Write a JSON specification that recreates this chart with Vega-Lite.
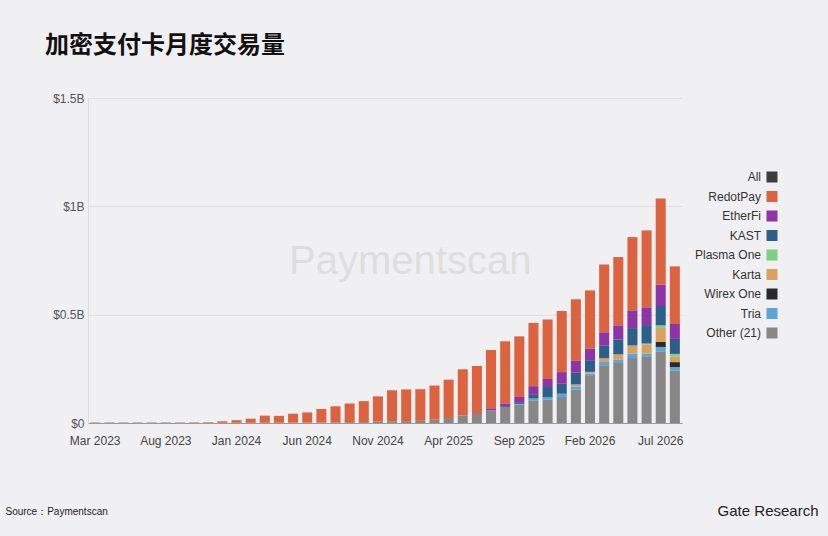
{
  "$schema": "https://vega.github.io/schema/vega-lite/v6.json",
  "width": 594,
  "height": 325,
  "autosize": {"type": "none"},
  "padding": {"left": 88, "top": 98, "right": 146, "bottom": 113},
  "background": "#f0f0f2",
  "title": {
    "text": "加密支付卡月度交易量",
    "anchor": "start",
    "frame": "group",
    "dx": -43,
    "offset": 34,
    "font": "Noto Sans CJK SC",
    "fontSize": 24,
    "fontWeight": "bold",
    "color": "#111111"
  },
  "config": {
    "view": {"stroke": null},
    "font": "Liberation Sans",
    "axis": {"labelFont": "Liberation Sans", "titleFont": "Liberation Sans"},
    "legend": {"labelFont": "Liberation Sans"}
  },
  "datasets": {
    "monthly": [
      {"m": "Mar 2023", "Other (21)": 0.002, "Tria": 0, "Wirex One": 0, "Karta": 0, "Plasma One": 0, "KAST": 0, "EtherFi": 0, "RedotPay": 0.0005},
      {"m": "Apr 2023", "Other (21)": 0.002, "Tria": 0, "Wirex One": 0, "Karta": 0, "Plasma One": 0, "KAST": 0, "EtherFi": 0, "RedotPay": 0.0005},
      {"m": "May 2023", "Other (21)": 0.002, "Tria": 0, "Wirex One": 0, "Karta": 0, "Plasma One": 0, "KAST": 0, "EtherFi": 0, "RedotPay": 0.0005},
      {"m": "Jun 2023", "Other (21)": 0.002, "Tria": 0, "Wirex One": 0, "Karta": 0, "Plasma One": 0, "KAST": 0, "EtherFi": 0, "RedotPay": 0.0005},
      {"m": "Jul 2023", "Other (21)": 0.002, "Tria": 0, "Wirex One": 0, "Karta": 0, "Plasma One": 0, "KAST": 0, "EtherFi": 0, "RedotPay": 0.0005},
      {"m": "Aug 2023", "Other (21)": 0.002, "Tria": 0, "Wirex One": 0, "Karta": 0, "Plasma One": 0, "KAST": 0, "EtherFi": 0, "RedotPay": 0.0005},
      {"m": "Sep 2023", "Other (21)": 0.002, "Tria": 0, "Wirex One": 0, "Karta": 0, "Plasma One": 0, "KAST": 0, "EtherFi": 0, "RedotPay": 0.0005},
      {"m": "Oct 2023", "Other (21)": 0.002, "Tria": 0, "Wirex One": 0, "Karta": 0, "Plasma One": 0, "KAST": 0, "EtherFi": 0, "RedotPay": 0.0008},
      {"m": "Nov 2023", "Other (21)": 0.002, "Tria": 0, "Wirex One": 0, "Karta": 0, "Plasma One": 0, "KAST": 0, "EtherFi": 0, "RedotPay": 0.002},
      {"m": "Dec 2023", "Other (21)": 0.001, "Tria": 0, "Wirex One": 0, "Karta": 0, "Plasma One": 0, "KAST": 0, "EtherFi": 0, "RedotPay": 0.007},
      {"m": "Jan 2024", "Other (21)": 0.001, "Tria": 0, "Wirex One": 0, "Karta": 0, "Plasma One": 0, "KAST": 0, "EtherFi": 0, "RedotPay": 0.012},
      {"m": "Feb 2024", "Other (21)": 0.001, "Tria": 0, "Wirex One": 0, "Karta": 0, "Plasma One": 0, "KAST": 0, "EtherFi": 0, "RedotPay": 0.019},
      {"m": "Mar 2024", "Other (21)": 0.001, "Tria": 0, "Wirex One": 0, "Karta": 0, "Plasma One": 0, "KAST": 0, "EtherFi": 0, "RedotPay": 0.033},
      {"m": "Apr 2024", "Other (21)": 0.001, "Tria": 0, "Wirex One": 0, "Karta": 0, "Plasma One": 0, "KAST": 0, "EtherFi": 0, "RedotPay": 0.032},
      {"m": "May 2024", "Other (21)": 0.002, "Tria": 0, "Wirex One": 0, "Karta": 0, "Plasma One": 0, "KAST": 0, "EtherFi": 0, "RedotPay": 0.041},
      {"m": "Jun 2024", "Other (21)": 0.002, "Tria": 0, "Wirex One": 0, "Karta": 0, "Plasma One": 0, "KAST": 0, "EtherFi": 0, "RedotPay": 0.047},
      {"m": "Jul 2024", "Other (21)": 0.003, "Tria": 0, "Wirex One": 0, "Karta": 0, "Plasma One": 0, "KAST": 0, "EtherFi": 0, "RedotPay": 0.062},
      {"m": "Aug 2024", "Other (21)": 0.003, "Tria": 0, "Wirex One": 0, "Karta": 0, "Plasma One": 0, "KAST": 0, "EtherFi": 0, "RedotPay": 0.074},
      {"m": "Sep 2024", "Other (21)": 0.004, "Tria": 0, "Wirex One": 0, "Karta": 0, "Plasma One": 0, "KAST": 0, "EtherFi": 0, "RedotPay": 0.086},
      {"m": "Oct 2024", "Other (21)": 0.004, "Tria": 0, "Wirex One": 0, "Karta": 0, "Plasma One": 0, "KAST": 0, "EtherFi": 0, "RedotPay": 0.097},
      {"m": "Nov 2024", "Other (21)": 0.006, "Tria": 0, "Wirex One": 0, "Karta": 0, "Plasma One": 0, "KAST": 0, "EtherFi": 0, "RedotPay": 0.117},
      {"m": "Dec 2024", "Other (21)": 0.008, "Tria": 0, "Wirex One": 0, "Karta": 0, "Plasma One": 0, "KAST": 0, "EtherFi": 0, "RedotPay": 0.143},
      {"m": "Jan 2025", "Other (21)": 0.009, "Tria": 0, "Wirex One": 0, "Karta": 0, "Plasma One": 0, "KAST": 0, "EtherFi": 0, "RedotPay": 0.146},
      {"m": "Feb 2025", "Other (21)": 0.010, "Tria": 0, "Wirex One": 0, "Karta": 0, "Plasma One": 0, "KAST": 0, "EtherFi": 0, "RedotPay": 0.146},
      {"m": "Mar 2025", "Other (21)": 0.015, "Tria": 0, "Wirex One": 0, "Karta": 0, "Plasma One": 0, "KAST": 0, "EtherFi": 0, "RedotPay": 0.158},
      {"m": "Apr 2025", "Other (21)": 0.023, "Tria": 0, "Wirex One": 0, "Karta": 0, "Plasma One": 0, "KAST": 0, "EtherFi": 0, "RedotPay": 0.177},
      {"m": "May 2025", "Other (21)": 0.035, "Tria": 0, "Wirex One": 0, "Karta": 0, "Plasma One": 0, "KAST": 0, "EtherFi": 0, "RedotPay": 0.213},
      {"m": "Jun 2025", "Other (21)": 0.043, "Tria": 0, "Wirex One": 0, "Karta": 0, "Plasma One": 0, "KAST": 0, "EtherFi": 0.003, "RedotPay": 0.217},
      {"m": "Jul 2025", "Other (21)": 0.059, "Tria": 0, "Wirex One": 0, "Karta": 0, "Plasma One": 0, "KAST": 0, "EtherFi": 0.009, "RedotPay": 0.269},
      {"m": "Aug 2025", "Other (21)": 0.074, "Tria": 0, "Wirex One": 0, "Karta": 0, "Plasma One": 0, "KAST": 0.004, "EtherFi": 0.013, "RedotPay": 0.286},
      {"m": "Sep 2025", "Other (21)": 0.085, "Tria": 0.003, "Wirex One": 0, "Karta": 0, "Plasma One": 0, "KAST": 0.008, "EtherFi": 0.024, "RedotPay": 0.280},
      {"m": "Oct 2025", "Other (21)": 0.105, "Tria": 0.008, "Wirex One": 0, "Karta": 0, "Plasma One": 0, "KAST": 0.020, "EtherFi": 0.037, "RedotPay": 0.292},
      {"m": "Nov 2025", "Other (21)": 0.109, "Tria": 0.011, "Wirex One": 0, "Karta": 0, "Plasma One": 0, "KAST": 0.046, "EtherFi": 0.037, "RedotPay": 0.275},
      {"m": "Dec 2025", "Other (21)": 0.120, "Tria": 0.015, "Wirex One": 0, "Karta": 0, "Plasma One": 0, "KAST": 0.046, "EtherFi": 0.054, "RedotPay": 0.282},
      {"m": "Jan 2026", "Other (21)": 0.154, "Tria": 0.015, "Wirex One": 0, "Karta": 0.009, "Plasma One": 0, "KAST": 0.054, "EtherFi": 0.057, "RedotPay": 0.282},
      {"m": "Feb 2026", "Other (21)": 0.217, "Tria": 0.011, "Wirex One": 0, "Karta": 0.008, "Plasma One": 0, "KAST": 0.054, "EtherFi": 0.054, "RedotPay": 0.268},
      {"m": "Mar 2026", "Other (21)": 0.266, "Tria": 0.015, "Wirex One": 0, "Karta": 0.018, "Plasma One": 0, "KAST": 0.058, "EtherFi": 0.062, "RedotPay": 0.313},
      {"m": "Apr 2026", "Other (21)": 0.277, "Tria": 0.015, "Wirex One": 0, "Karta": 0.025, "Plasma One": 0, "KAST": 0.068, "EtherFi": 0.066, "RedotPay": 0.315},
      {"m": "May 2026", "Other (21)": 0.300, "Tria": 0.020, "Wirex One": 0, "Karta": 0.038, "Plasma One": 0, "KAST": 0.080, "EtherFi": 0.082, "RedotPay": 0.338},
      {"m": "Jun 2026", "Other (21)": 0.305, "Tria": 0.015, "Wirex One": 0, "Karta": 0.043, "Plasma One": 0.004, "KAST": 0.085, "EtherFi": 0.082, "RedotPay": 0.355},
      {"m": "Jul 2026", "Other (21)": 0.331, "Tria": 0.020, "Wirex One": 0.023, "Karta": 0.065, "Plasma One": 0.012, "KAST": 0.089, "EtherFi": 0.099, "RedotPay": 0.397},
      {"m": "Aug 2026", "Other (21)": 0.243, "Tria": 0.015, "Wirex One": 0.023, "Karta": 0.026, "Plasma One": 0.012, "KAST": 0.069, "EtherFi": 0.069, "RedotPay": 0.266}
    ],
    "mark": [{"label": "Paymentscan", "m": "Jan 2025", "v": 0.745}]
  },
  "layer": [
    {
      "data": {"name": "monthly"},
      "transform": [
        {"fold": ["Other (21)", "Tria", "Wirex One", "Karta", "Plasma One", "KAST", "EtherFi", "RedotPay"], "as": ["s", "v"]},
        {"calculate": "indexof(['Other (21)','Tria','Wirex One','Karta','Plasma One','KAST','EtherFi','RedotPay'], datum.s)", "as": "k"}
      ],
      "mark": {"type": "bar"},
      "encoding": {
        "x": {"field": "m", "type": "ordinal"},
        "y": {"field": "v", "type": "quantitative", "stack": "zero"},
        "color": {
          "field": "s",
          "type": "nominal",
          "scale": {
            "domain": ["All", "RedotPay", "EtherFi", "KAST", "Plasma One", "Karta", "Wirex One", "Tria", "Other (21)"],
            "range": ["#3d3d3d", "#dc6340", "#8e35a6", "#2d6089", "#7dd07f", "#d9a15f", "#2a2a2a", "#5aa6d6", "#878787"]
          },
          "legend": {
            "title": null,
            "orient": "none",
            "legendX": 678,
            "legendY": 73,
            "symbolType": "square",
            "symbolSize": 121,
            "symbolStrokeWidth": 0,
            "symbolOpacity": 1,
            "labelAlign": "right",
            "labelOffset": -17,
            "labelFontSize": 12,
            "labelColor": "#333333",
            "rowPadding": 7.5
          }
        },
        "order": {"field": "k", "type": "quantitative", "sort": "ascending"}
      }
    },
    {
      "data": {"name": "mark"},
      "mark": {"type": "text", "font": "Liberation Sans", "fontSize": 40, "color": "#dededf", "align": "center", "baseline": "middle", "dx": 4},
      "encoding": {
        "x": {"field": "m", "type": "ordinal"},
        "y": {"field": "v", "type": "quantitative"},
        "text": {"field": "label"}
      }
    }
  ],
  "encoding": {
    "x": {
      "field": "m",
      "type": "ordinal",
      "sort": null,
      "scale": {"paddingInner": 0.29, "paddingOuter": 0.15},
      "axis": {
        "values": ["Mar 2023", "Aug 2023", "Jan 2024", "Jun 2024", "Nov 2024", "Apr 2025", "Sep 2025", "Feb 2026", "Jul 2026"],
        "labelAngle": 0,
        "labelFontSize": 12,
        "labelColor": "#444444",
        "labelPadding": 12,
        "ticks": false,
        "domainColor": "#9a9a9a",
        "domainWidth": 1,
        "title": "Source：Paymentscan",
        "titleFontSize": 10,
        "titleFontWeight": "normal",
        "titleColor": "#222222",
        "titleAlign": "left",
        "titleBaseline": "middle",
        "titleAnchor": "start",
        "titleX": -83,
        "titleY": 88
      }
    },
    "y": {
      "type": "quantitative",
      "scale": {"domain": [0, 1.5]},
      "axis": {
        "values": [0, 0.5, 1, 1.5],
        "labelExpr": "datum.value == 0 ? '$0' : '$' + datum.value + 'B'",
        "labelFontSize": 12,
        "labelColor": "#555555",
        "labelPadding": 4,
        "ticks": false,
        "domainColor": "#dddddd",
        "gridColor": "#e0e0e2",
        "title": "Gate Research",
        "titleAngle": 0,
        "titleFontSize": 15,
        "titleFontWeight": "normal",
        "titleColor": "#222222",
        "titleAlign": "right",
        "titleBaseline": "middle",
        "titleX": 730,
        "titleY": 412
      }
    }
  }
}
